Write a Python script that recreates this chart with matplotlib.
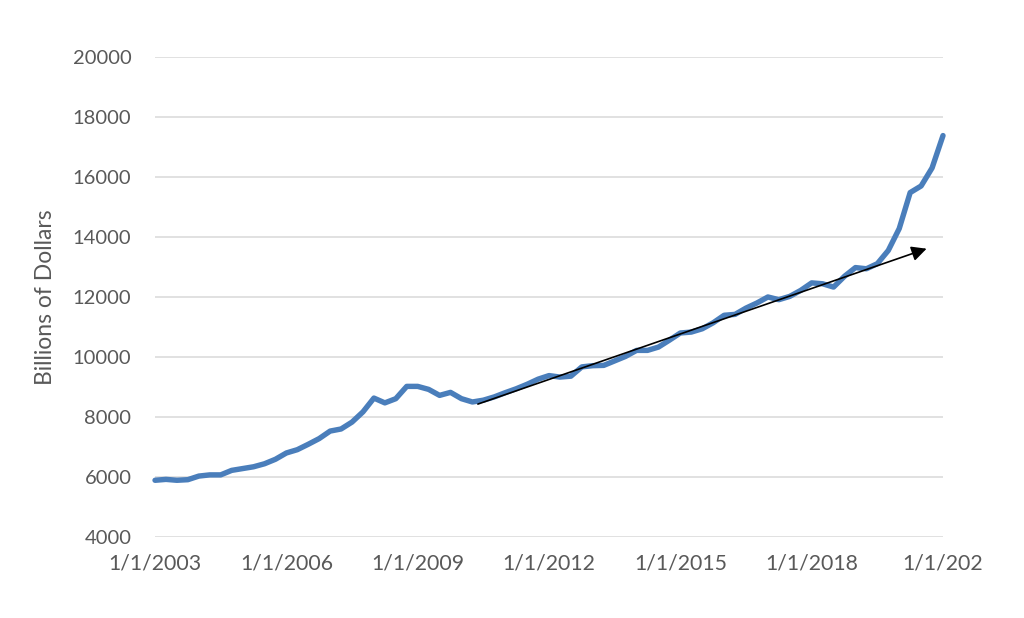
import matplotlib
matplotlib.use("Agg")
import matplotlib.pyplot as plt
import numpy as np

# quarterly values, 2003 Q1 .. 2021 Q1 (billions of dollars)
values = [
    5890, 5920, 5890, 5910, 6030, 6070, 6070, 6220,
    6280, 6340, 6440, 6590, 6800, 6910, 7090, 7280,
    7530, 7600, 7830, 8170, 8630, 8470, 8610, 9020,
    9020, 8920, 8720, 8820, 8610, 8500, 8560, 8670,
    8810, 8940, 9090, 9260, 9380, 9330, 9360, 9670,
    9710, 9720, 9870, 10020, 10220, 10220, 10330, 10560,
    10800, 10830, 10940, 11140, 11390, 11420, 11630, 11800,
    12000, 11910, 12020, 12220, 12470, 12440, 12330, 12690,
    12980, 12940, 13110, 13550, 14280, 15480, 15700, 16300,
    17380,
]
tick_pos = [0, 12, 24, 36, 48, 60, 72]
tick_labels = ["1/1/2003", "1/1/2006", "1/1/2009", "1/1/2012",
               "1/1/2015", "1/1/2018", "1/1/202"]
y_ticks = list(range(4000, 20001, 2000))

# trend arrow (quarter index, value)
arrow_start = (29.5, 8430)
arrow_end = (70.5, 13610)

gray = "#595959"
plt.rcParams["font.family"] = ["Lato", "DejaVu Sans"]

fig = plt.figure(figsize=(10.24, 6.18), dpi=100)
ax = fig.add_axes([0.1514, 0.1311, 0.7695, 0.7767])

x = np.arange(len(values))
ax.plot(x, values, color="#4a7ebb", lw=3.9, solid_joinstyle="round",
        solid_capstyle="round", zorder=3, clip_on=False)

ax.annotate("", xy=arrow_end, xytext=arrow_start,
            arrowprops=dict(arrowstyle="-|>,head_length=0.9,head_width=0.45",
                            color="black", lw=1.2, shrinkA=0, shrinkB=0),
            zorder=4)

ax.set_xlim(0, 72)
ax.set_ylim(4000, 20000)
ax.set_yticks(y_ticks)
ax.set_xticks(tick_pos)
ax.set_xticklabels(tick_labels)
ax.grid(axis="y", color="#d9d9d9", lw=1.1)
ax.set_axisbelow(True)
for s in ax.spines.values():
    s.set_visible(False)
ax.tick_params(axis="y", length=0, labelsize=14.5, labelcolor=gray, pad=17)
ax.tick_params(axis="x", length=0, labelsize=15.3, labelcolor=gray, pad=12)
ax.set_ylabel("Billions of Dollars", fontsize=16.5, color=gray, labelpad=12)

fig.savefig("out.png", dpi=100)
